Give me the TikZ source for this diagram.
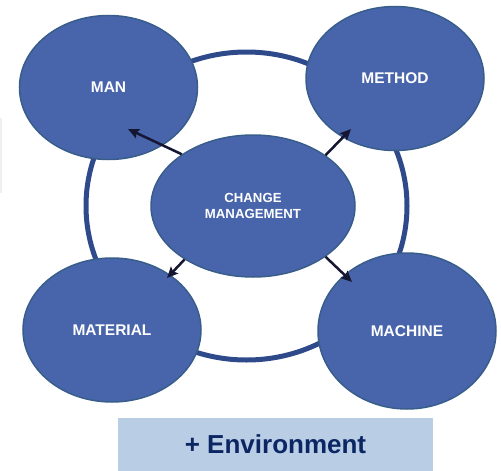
\documentclass[tikz,border=0pt]{standalone}
\usepackage{fontspec}
\usepackage{tikz}
\usepackage{xcolor}
\usetikzlibrary{shapes.geometric,arrows.meta}
\setmainfont{Liberation Sans}

\definecolor{blobfill}{RGB}{72,101,172}
\definecolor{blobline}{RGB}{56,93,138}
\definecolor{ringblue}{RGB}{47,74,138}
\definecolor{arrdark}{RGB}{20,22,50}
\definecolor{envfill}{RGB}{185,205,229}
\definecolor{envtext}{RGB}{12,38,100}

\begin{document}
\begin{tikzpicture}[x=1pt,y=-1pt]
			\useasboundingbox (0,0) rectangle (501,471);
			\draw[gray!12, line width=1.5pt] (0.8,118) -- (0.8,193);
			\draw[ringblue, line width=5pt] (246.5,206) ellipse (160.5pt and 154pt);
			\tikzstyle{every node}=[ellipse,inner sep=0pt,draw=blobline,line width=1.5pt,fill=blobfill,text=white,font=\bfseries\fontsize{15.5}{18}\selectfont,minimum width=178pt,minimum height=144pt]
			\tikzstyle{arr}=[arrdark,line width=2.5pt,-{Stealth[length=11pt,width=10pt,inset=2pt]}]
			\node (man) at (108.5,87.5) {MAN};
			\node (method) at (395,78.5) {METHOD};
			\node (material) at (112,330) {MATERIAL};
			\node[minimum height=156pt] (machine) at (407,331) {MACHINE};
			\node[minimum width=204pt,minimum height=142pt,align=center,font=\bfseries\fontsize{13.2}{16}\selectfont] (change) at (253,206) {CHANGE\\MANAGEMENT};
			\coordinate (manTip) at (128,129);
			\coordinate (methodTip) at (351,129);
			\coordinate (materialTip) at (167,278);
			\coordinate (machineTip) at (352,282);
			\draw[arr] (change.144) -- (manTip);
			\draw[arr] (change.35) -- (methodTip);
			\draw[arr] (change.218) -- (materialTip);
			\draw[arr] (change.-35) -- (machineTip);
			\node[rectangle,draw=none,fill=envfill,text=envtext,minimum width=315pt,minimum height=53pt,font=\bfseries\fontsize{26}{30}\selectfont] (env) at (275.5,444.5) {+ Environment};
		\end{tikzpicture}
\end{document}
